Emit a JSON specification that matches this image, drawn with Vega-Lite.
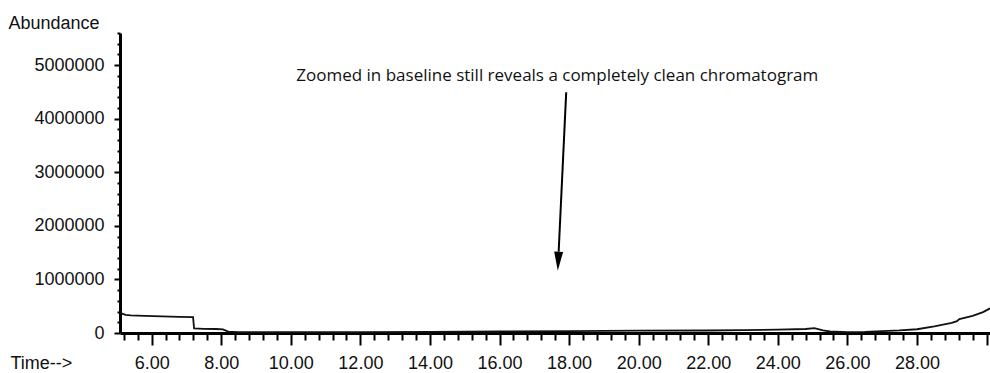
{
  "$schema": "https://vega.github.io/schema/vega-lite/v6.json",
  "width": 870,
  "height": 300,
  "autosize": {"type": "none"},
  "padding": {"left": 120, "top": 33, "right": 0, "bottom": 40},
  "background": "white",
  "config": {"view": {"stroke": null}},
  "datasets": {
    "trace": [
      {"time": 5.09, "abundance": 410000},
      {"time": 5.15, "abundance": 360000},
      {"time": 5.25, "abundance": 340000},
      {"time": 5.4, "abundance": 330000},
      {"time": 5.8, "abundance": 320000},
      {"time": 6.3, "abundance": 310000},
      {"time": 6.8, "abundance": 300000},
      {"time": 7.19, "abundance": 295000},
      {"time": 7.22, "abundance": 85000},
      {"time": 7.5, "abundance": 78000},
      {"time": 7.85, "abundance": 75000},
      {"time": 8.05, "abundance": 68000},
      {"time": 8.2, "abundance": 25000},
      {"time": 8.5, "abundance": 15000},
      {"time": 10, "abundance": 14000},
      {"time": 12, "abundance": 15000},
      {"time": 14, "abundance": 20000},
      {"time": 16, "abundance": 28000},
      {"time": 18, "abundance": 35000},
      {"time": 20, "abundance": 45000},
      {"time": 22, "abundance": 47000},
      {"time": 23, "abundance": 52000},
      {"time": 24, "abundance": 62000},
      {"time": 24.8, "abundance": 75000},
      {"time": 25.05, "abundance": 90000},
      {"time": 25.3, "abundance": 50000},
      {"time": 25.5, "abundance": 28000},
      {"time": 26, "abundance": 18000},
      {"time": 26.5, "abundance": 20000},
      {"time": 27, "abundance": 35000},
      {"time": 27.5, "abundance": 48000},
      {"time": 28, "abundance": 70000},
      {"time": 28.5, "abundance": 125000},
      {"time": 29, "abundance": 190000},
      {"time": 29.15, "abundance": 220000},
      {"time": 29.22, "abundance": 260000},
      {"time": 29.6, "abundance": 320000},
      {"time": 29.9, "abundance": 390000},
      {"time": 30.1, "abundance": 460000}
    ],
    "note": [
      {"time": 17.66, "abundance": 4700000, "label": "Zoomed in baseline still reveals a completely clean chromatogram"}
    ],
    "arrow": [
      {"time": 17.917, "abundance": 4494000, "time2": 17.70, "abundance2": 1517000}
    ],
    "head": [
      {"time": 17.687, "abundance": 1339000}
    ]
  },
  "layer": [
    {
      "data": {"name": "trace"},
      "mark": {"type": "line", "color": "#111111", "strokeWidth": 1.8, "clip": true, "interpolate": "linear"},
      "encoding": {
        "x": {
          "field": "time",
          "type": "quantitative",
          "scale": {"domain": [5.09, 30.1], "nice": false, "zero": false},
          "axis": {
            "values": [5.2,5.6,6,6.4,6.8,7.2,7.6,8,8.4,8.8,9.2,9.6,10,10.4,10.8,11.2,11.6,12,12.4,12.8,13.2,13.6,14,14.4,14.8,15.2,15.6,16,16.4,16.8,17.2,17.6,18,18.4,18.8,19.2,19.6,20,20.4,20.8,21.2,21.6,22,22.4,22.8,23.2,23.6,24,24.4,24.8,25.2,25.6,26,26.4,26.8,27.2,27.6,28,28.4,28.8,29.2,29.6,30],
            "tickCount": 500,
            "labelExpr": "(datum.value % 2 == 0 && datum.value < 29) ? format(datum.value, '.2f') : ''",
            "labelFont": "Liberation Sans",
            "labelFontSize": 18,
            "labelColor": "#111111",
            "labelBaseline": "alphabetic",
            "labelPadding": 23,
            "labelOverlap": false,
            "labelFlush": false,
            "domainColor": "#000000",
            "domainWidth": 3,
            "tickColor": "#000000",
            "tickWidth": 2,
            "tickSize": {"condition": {"test": "datum.value % 2 != 0", "value": 7}, "value": 12},
            "grid": false,
            "title": "Time-->",
            "titleFont": "Liberation Sans",
            "titleFontSize": 18,
            "titleFontWeight": "normal",
            "titleColor": "#111111",
            "titleAlign": "left",
            "titleAnchor": "start",
            "titleBaseline": "alphabetic",
            "titleX": -110,
            "titleY": 35
          }
        },
        "y": {
          "field": "abundance",
          "type": "quantitative",
          "scale": {"domain": [0, 5600000], "nice": false},
          "axis": {
            "values": [0,200000,400000,600000,800000,1000000,1200000,1400000,1600000,1800000,2000000,2200000,2400000,2600000,2800000,3000000,3200000,3400000,3600000,3800000,4000000,4200000,4400000,4600000,4800000,5000000,5200000,5400000,5600000],
            "tickCount": 500,
            "labelExpr": "(datum.value % 1000000 == 0) ? format(datum.value, 'd') : ''",
            "labelFont": "Liberation Sans",
            "labelFontSize": 18,
            "labelColor": "#111111",
            "labelPadding": 10,
            "labelOverlap": false,
            "labelFlush": false,
            "domainColor": "#000000",
            "domainWidth": 3,
            "tickColor": "#000000",
            "tickWidth": 2,
            "tickSize": {"condition": {"test": "datum.value % 1000000 != 0", "value": 3}, "value": 6},
            "grid": false,
            "title": "Abundance",
            "titleFont": "Liberation Sans",
            "titleFontSize": 18,
            "titleFontWeight": "normal",
            "titleColor": "#111111",
            "titleAngle": 0,
            "titleAlign": "left",
            "titleAnchor": "start",
            "titleBaseline": "alphabetic",
            "titleX": -112,
            "titleY": -5
          }
        }
      }
    },
    {
      "data": {"name": "note"},
      "mark": {"type": "text", "font": "Open Sans", "fontSize": 17, "color": "#111111", "align": "center", "baseline": "alphabetic"},
      "encoding": {
        "x": {"field": "time", "type": "quantitative"},
        "y": {"field": "abundance", "type": "quantitative"},
        "text": {"field": "label"}
      }
    },
    {
      "data": {"name": "arrow"},
      "mark": {"type": "rule", "color": "#000000", "strokeWidth": 2},
      "encoding": {
        "x": {"field": "time", "type": "quantitative"},
        "y": {"field": "abundance", "type": "quantitative"},
        "x2": {"field": "time2"},
        "y2": {"field": "abundance2"}
      }
    },
    {
      "data": {"name": "head"},
      "mark": {"type": "point", "shape": "M-0.47,-1L0.47,-1L0,1Z", "size": 361, "filled": true, "color": "#000000", "opacity": 1, "angle": 2.75},
      "encoding": {
        "x": {"field": "time", "type": "quantitative"},
        "y": {"field": "abundance", "type": "quantitative"}
      }
    }
  ]
}
